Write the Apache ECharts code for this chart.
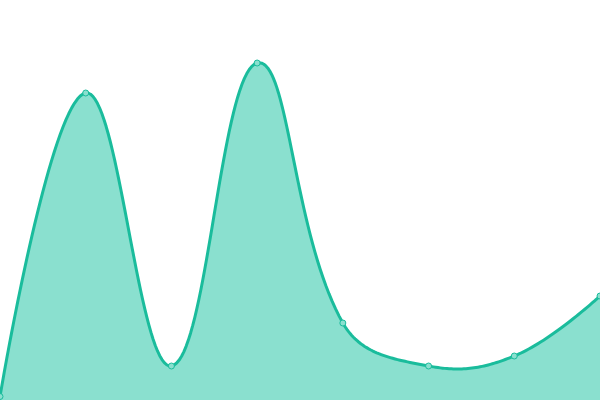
<!DOCTYPE html>
<html><head><meta charset="utf-8">
<script src="https://cdn.jsdelivr.net/npm/echarts@6/dist/echarts.min.js"></script>
<style>html,body{margin:0;padding:0;background:#fff}#c{width:600px;height:400px}</style>
</head><body><div id="c"></div>
<script>
const categories = ['A','B','C','D','E','F','G','H'];
const values = [3.5, 307, 34, 337, 77, 34, 44, 104];

function controlPoints(pts, smooth) {
  const cps = [];
  const n = pts.length;
  for (let i = 0; i < n; i++) {
    const p = pts[i];
    if (i === 0 || i === n - 1) { cps.push([p[0], p[1]]); continue; }
    const a = pts[i - 1], b = pts[i + 1];
    const vx = (b[0] - a[0]) * smooth, vy = (b[1] - a[1]) * smooth;
    let d0 = Math.hypot(p[0] - a[0], p[1] - a[1]);
    let d1 = Math.hypot(p[0] - b[0], p[1] - b[1]);
    const s = d0 + d1;
    if (s) { d0 /= s; d1 /= s; }
    cps.push([p[0] - vx * d0, p[1] - vy * d0]);
    cps.push([p[0] + vx * d1, p[1] + vy * d1]);
  }
  return cps;
}
function sampleCurve(pts, smooth, steps) {
  const cps = controlPoints(pts, smooth);
  const out = [[pts[0][0], pts[0][1]]];
  for (let i = 0; i < pts.length - 1; i++) {
    const p0 = pts[i], c0 = cps[2 * i], c1 = cps[2 * i + 1], p1 = pts[i + 1];
    for (let k = 1; k <= steps; k++) {
      const t = k / steps, u = 1 - t;
      const x = u*u*u*p0[0] + 3*u*u*t*c0[0] + 3*u*t*t*c1[0] + t*t*t*p1[0];
      const y = u*u*u*p0[1] + 3*u*u*t*c0[1] + 3*u*t*t*c1[1] + t*t*t*p1[1];
      out.push([x, y]);
    }
  }
  return out;
}

const chart = echarts.init(document.getElementById('c'));
chart.setOption({
  animation: false,
  grid: {left: 0, right: 0, top: 0, bottom: 0},
  xAxis: {type: 'category', data: categories, boundaryGap: false, show: false},
  yAxis: {type: 'value', min: 0, max: 400, show: false},
  series: [{
    type: 'custom',
    data: [0],
    z: 1,
    renderItem: function (params, api) {
      const pts = values.map((v, i) => api.coord([i, v]));
      const base = api.coord([0, 0])[1];
      const curve = sampleCurve(pts, 0.4, 40);
      const area = curve.concat([[pts[pts.length - 1][0], base], [pts[0][0], base]]);
      return {
        type: 'group',
        children: [
          {type: 'polygon', shape: {points: area}, style: {fill: '#8ae0cf', stroke: null}},
          {type: 'polyline', shape: {points: curve}, style: {fill: null, stroke: '#1abc9c', lineWidth: 3, lineJoin: 'round'}}
        ]
      };
    }
  }, {
    type: 'scatter',
    data: values,
    z: 3,
    symbol: 'circle',
    symbolSize: 6,
    itemStyle: {color: '#8ae0cf', borderColor: '#1abc9c', borderWidth: 1, opacity: 1}
  }]
});
</script></body></html>
